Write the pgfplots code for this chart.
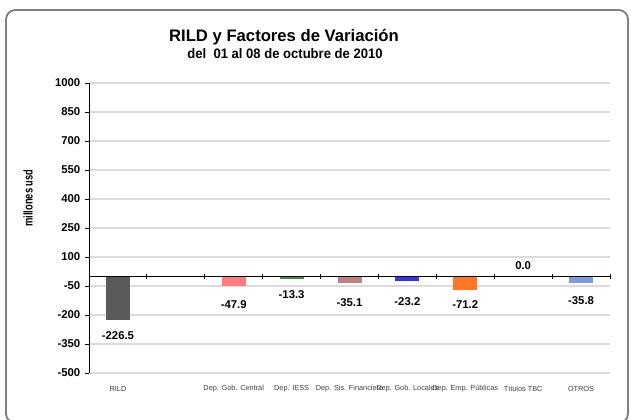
\documentclass[border=0pt]{standalone}
\usepackage{pgfplots}
\pgfplotsset{compat=1.18}
\usepackage{fontspec}
\setmainfont{Liberation Sans}
\definecolor{cRILD}{HTML}{5A5A5A}
\definecolor{cGob}{HTML}{FF7C80}
\definecolor{cIESS}{HTML}{339933}
\definecolor{cSis}{HTML}{C08080}
\definecolor{cLoc}{HTML}{3333FF}
\definecolor{cEmp}{HTML}{FF7722}
\definecolor{cOtr}{HTML}{7F9AE0}
\definecolor{frameg}{HTML}{7F7F7F}
\begin{document}
\begin{tikzpicture}
\useasboundingbox (0,0) rectangle (473.25pt,314.25pt);
\draw[color=frameg, line width=1.4pt, rounded corners=7pt] (4.5pt,-3pt) rectangle (471pt,306.75pt);
\node[font=\bfseries\fontsize{12.5}{15}\selectfont] at (213pt,286.5pt) {RILD y Factores de Variación};
\node[font=\bfseries\fontsize{10.3}{12}\selectfont] at (213.75pt,273.75pt) {\scalebox{0.95}[1]{del\ \ 01 al 08 de octubre de 2010}};
\node[rotate=90, font=\bfseries\fontsize{9.5}{11}\selectfont] at (21pt,165.75pt) {\scalebox{0.74}[1]{millones usd}};
\begin{axis}[
  at={(66.75pt,34.5pt)}, anchor=south west,
  scale only axis, width=390.75pt, height=217.5pt,
  xmin=-0.5, xmax=8.5, ymin=-500, ymax=1000,
  ytick={-500,-350,-200,-50,100,250,400,550,700,850,1000},
  yticklabels={-500,-350,-200,-50,100,250,400,550,700,850,1000},
  xtick={0,1,2,3,4,5,6,7,8},
  xticklabels={RILD,,Dep. Gob. Central,Dep. IESS,Dep. Sis. Financiero,Dep. Gob. Locales,Dep. Emp. Públicas,Títulos TBC,OTROS},
  axis y line*=left, axis x line*=bottom,
  x axis line style={draw=none},
  y axis line style={black, line width=0.7pt},
  ymajorgrids, grid style={color=gray!28, line width=1pt},
  ytick style={black, line width=0.6pt}, major tick length=3pt, tick align=outside,
  xtick style={draw=none},
  xticklabel style={font=\fontsize{5.5}{6}\selectfont, color=black!75, anchor=center, yshift=-9pt},
  yticklabel style={font=\bfseries\fontsize{8.5}{10}\selectfont},
  ybar, bar width=18pt,
  clip=false,
]
\addplot[fill=cRILD, draw=none, bar shift=0pt] coordinates {(0,-226.5)};
\addplot[fill=cGob, draw=none, bar shift=0pt] coordinates {(2,-47.9)};
\addplot[fill=cIESS, draw=none, bar shift=0pt] coordinates {(3,-13.3)};
\addplot[fill=cSis, draw=none, bar shift=0pt] coordinates {(4,-35.1)};
\addplot[fill=cLoc, draw=none, bar shift=0pt] coordinates {(5,-23.2)};
\addplot[fill=cEmp, draw=none, bar shift=0pt] coordinates {(6,-71.2)};
\addplot[fill=white, draw=none, bar shift=0pt] coordinates {(7,0)};
\addplot[fill=cOtr, draw=none, bar shift=0pt] coordinates {(8,-35.8)};
\draw[black, line width=0.9pt] (axis cs:-0.5,0) -- (axis cs:8.5,0);
\draw[black, line width=0.6pt] ([yshift=-2pt]axis cs:0.5,0) -- ([yshift=2pt]axis cs:0.5,0);
\draw[black, line width=0.6pt] ([yshift=-2pt]axis cs:1.5,0) -- ([yshift=2pt]axis cs:1.5,0);
\draw[black, line width=0.6pt] ([yshift=-2pt]axis cs:2.5,0) -- ([yshift=2pt]axis cs:2.5,0);
\draw[black, line width=0.6pt] ([yshift=-2pt]axis cs:3.5,0) -- ([yshift=2pt]axis cs:3.5,0);
\draw[black, line width=0.6pt] ([yshift=-2pt]axis cs:4.5,0) -- ([yshift=2pt]axis cs:4.5,0);
\draw[black, line width=0.6pt] ([yshift=-2pt]axis cs:5.5,0) -- ([yshift=2pt]axis cs:5.5,0);
\draw[black, line width=0.6pt] ([yshift=-2pt]axis cs:6.5,0) -- ([yshift=2pt]axis cs:6.5,0);
\draw[black, line width=0.6pt] ([yshift=-2pt]axis cs:7.5,0) -- ([yshift=2pt]axis cs:7.5,0);
\draw[black, line width=0.6pt] ([yshift=-2pt]axis cs:8.5,0) -- ([yshift=2pt]axis cs:8.5,0);
\begin{scope}[every node/.style={font=\bfseries\fontsize{8.5}{10}\selectfont}]
\node at (axis cs:0,-304) {-226.5};
\node at (axis cs:2,-148) {-47.9};
\node at (axis cs:3,-92) {-13.3};
\node at (axis cs:4,-138) {-35.1};
\node at (axis cs:5,-133) {-23.2};
\node at (axis cs:6,-148) {-71.2};
\node at (axis cs:7,58) {0.0};
\node at (axis cs:8,-128) {-35.8};
\end{scope}
\end{axis}
\end{tikzpicture}
\end{document}
